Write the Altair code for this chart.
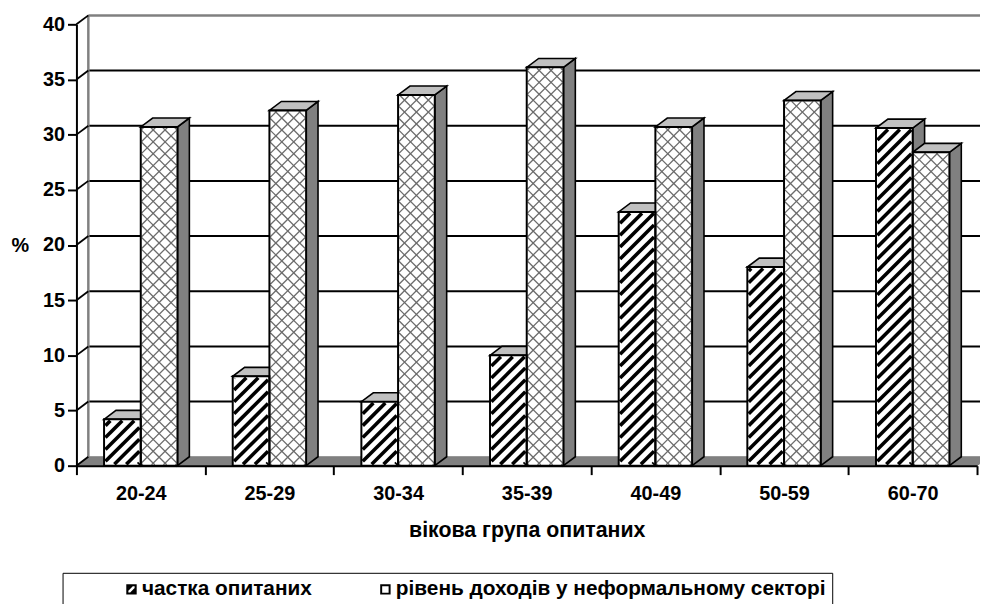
import json
import altair as alt
import pandas as pd

# ---------------- data ----------------
categories = ["20-24", "25-29", "30-34", "35-39", "40-49", "50-59", "60-70"]
share_respondents = [4.2, 8.1, 5.8, 10.0, 23.0, 18.0, 30.6]
informal_income = [30.7, 32.2, 33.6, 36.1, 30.7, 33.1, 28.4]
series_names = ["частка опитаних", "рівень доходів у неформальному секторі"]
y_tick_values = [0, 5, 10, 15, 20, 25, 30, 35, 40]
x_title = "вікова група опитаних"
y_title = "%"

# ---------------- geometry / style ----------------
FONT = "Liberation Sans"
N = len(categories)
Y_MAX = y_tick_values[-1]
PLOT_W = 908
PLOT_H = 445
SX = PLOT_W / N          # px per x unit
SY = PLOT_H / Y_MAX      # px per y unit
BAR_PX = 37
DEPTH_PX_X = 12
DEPTH_PX_Y = 9
BW = BAR_PX / SX
DXU = DEPTH_PX_X / SX
DYU = DEPTH_PX_Y / SY

rows = []
for i, cat in enumerate(categories):
    for s, vals in enumerate([share_respondents, informal_income]):
        rows.append({"cat": cat, "idx": i, "s": s, "series": series_names[s],
                     "value": vals[i], "bid": i * 2 + s})
bars = pd.DataFrame(rows)

xs = alt.Scale(domain=[0, N], nice=False, zero=False)
ys = alt.Scale(domain=[0, Y_MAX], nice=False, zero=False)

base = alt.Chart(bars).transform_calculate(
    xl=f"datum.idx + 0.5 - {BW} + datum.s * {BW}",
    xr=f"datum.idx + 0.5 + datum.s * {BW}",
    zero="0",
)

# ---------- floor ----------
floor_df = pd.DataFrame({
    "fx": [0, DXU, N, N + DXU],
    "fy": [0, 0, 0, DYU],
    "fy2": [0, DYU, DYU, DYU],
})
floor = alt.Chart(floor_df).mark_area(fill="#808080", stroke="#808080", strokeWidth=1).encode(
    x=alt.X("fx:Q", scale=xs, axis=None),
    y=alt.Y("fy:Q", scale=ys, axis=None, stack=False),
    y2="fy2:Q",
)

# ---------- back wall ----------
grid_df = pd.DataFrame({"g": y_tick_values})
wall_grid = alt.Chart(grid_df).transform_filter(
    f"datum.g > 0 && datum.g < {Y_MAX}"
).transform_calculate(
    gx0=f"{DXU}", gx1=f"{N + DXU}", gy=f"datum.g + {DYU}"
).mark_rule(color="black", strokeWidth=2).encode(
    x=alt.X("gx0:Q", scale=xs, axis=None), x2="gx1:Q",
    y=alt.Y("gy:Q", scale=ys, axis=None),
)
wall_top = alt.Chart(grid_df).transform_filter(
    f"datum.g == {Y_MAX}"
).transform_calculate(
    gx0=f"{DXU}", gx1=f"{N + DXU}", gy=f"datum.g + {DYU}", gyb=f"{DYU}"
)
wall_top_line = wall_top.mark_rule(color="#808080", strokeWidth=2.5).encode(
    x=alt.X("gx0:Q", scale=xs, axis=None), x2="gx1:Q",
    y=alt.Y("gy:Q", scale=ys, axis=None),
)
wall_left_line = wall_top.mark_rule(color="#808080", strokeWidth=2.5).encode(
    x=alt.X("gx0:Q", scale=xs, axis=None),
    y=alt.Y("gyb:Q", scale=ys, axis=None), y2="gy:Q",
)
connectors = alt.Chart(grid_df).transform_calculate(
    cx0="0", cx1=f"{DXU}", cy1=f"datum.g + {DYU}"
).mark_rule(color="black", strokeWidth=1.8).encode(
    x=alt.X("cx0:Q", scale=xs, axis=None), x2="cx1:Q",
    y=alt.Y("g:Q", scale=ys, axis=None), y2="cy1:Q",
)

# ---------- 3D faces ----------
side = base.transform_calculate(ts="sequence(0, 2)").transform_flatten(
    ["ts"], as_=["t"]
).transform_calculate(
    sx=f"datum.xr + datum.t * {DXU}",
    sy0=f"datum.t * {DYU}",
    sy1=f"datum.value + datum.t * {DYU}",
).mark_area(fill="#808080", stroke="black", strokeWidth=1.6, strokeJoin="miter").encode(
    x=alt.X("sx:Q", scale=xs, axis=None),
    y=alt.Y("sy0:Q", scale=ys, axis=None, stack=False),
    y2="sy1:Q",
    detail="bid:N",
)

top = base.transform_calculate(ts="sequence(0, 4)").transform_flatten(
    ["ts"], as_=["t"]
).transform_calculate(
    tx=f"datum.xl + (datum.t == 1 ? {DXU} : datum.t == 2 ? {BW} : datum.t == 3 ? {BW + DXU} : 0)",
    ty0=f"datum.value + (datum.t == 3 ? {DYU} : 0)",
    ty1=f"datum.value + (datum.t == 0 ? 0 : {DYU})",
).mark_area(fill="#c0c0c0", stroke="black", strokeWidth=1.6, strokeJoin="miter").encode(
    x=alt.X("tx:Q", scale=xs, axis=None),
    y=alt.Y("ty0:Q", scale=ys, axis=None, stack=False),
    y2="ty1:Q",
    detail="bid:N",
)

# ---------- axes ----------
y_axis = alt.Axis(
    values=y_tick_values, grid=False, tickSize=9, tickWidth=2, tickColor="black",
    domain=True, domainColor="black", domainWidth=2, labels=True, labelFont=FONT,
    labelFontSize=20, labelFontWeight="bold", labelColor="black", labelPadding=3,
    zindex=2, orient="left",
    title=y_title, titleAngle=0, titleX=-57, titleY=223, titleAlign="center",
    titleBaseline="middle", titleFont=FONT, titleFontSize=20, titleFontWeight="bold",
    titleColor="black",
)
x_tick_axis = alt.Axis(
    values=list(range(N + 1)), labels=False, grid=False, tickSize=9, tickWidth=2,
    tickColor="black", domainColor="black", domainWidth=2, zindex=2, title=None,
    orient="bottom",
)
label_expr = json.dumps(categories) + "[floor(datum.value)]"
x_label_axis = alt.Axis(
    values=[i + 0.5 for i in range(N)], labelExpr=label_expr, ticks=False, domain=False,
    grid=False, labelFont=FONT, labelFontSize=20, labelFontWeight="bold",
    labelColor="black", labelPadding=18, labelFlush=False, labelOverlap=False,
    orient="bottom", zindex=2,
    title=x_title, titleFont=FONT, titleFontSize=21.5, titleFontWeight="bold",
    titleColor="black", titleY=65, titleBaseline="middle",
)

# invisible layers carrying the axes
y_axis_layer = alt.Chart(pd.DataFrame({"g": y_tick_values})).mark_tick(opacity=0).encode(
    y=alt.Y("g:Q", scale=ys, axis=y_axis),
)
x_tick_layer = base.mark_tick(opacity=0).encode(
    x=alt.X("xl:Q", scale=xs, axis=x_tick_axis),
)
x_label_layer = base.mark_tick(opacity=0).encode(
    x=alt.X("xr:Q", scale=xs, axis=x_label_axis),
)

# ---------- front faces ----------
front_fill = base.mark_rect(fill="white").encode(
    x=alt.X("xl:Q", scale=xs, axis=None), x2="xr:Q",
    y=alt.Y("value:Q", scale=ys, axis=None), y2="zero:Q",
)
front_outline = base.mark_rect(fillOpacity=0, stroke="black", strokeWidth=2).encode(
    x=alt.X("xl:Q", scale=xs, axis=None), x2="xr:Q",
    y=alt.Y("value:Q", scale=ys, axis=None), y2="zero:Q",
)


def hatch(series_index, direction, period, color, width, inset, phase):
    ch = base.transform_filter(f"datum.s == {series_index}").transform_calculate(
        h=f"datum.value * {SY}",
    ).transform_calculate(
        ks=f"sequence(0, ceil(({BAR_PX} + datum.h) / {period}) + 2)"
    ).transform_flatten(["ks"], as_=["k"])
    if direction == "/":
        ch = ch.transform_calculate(c=f"datum.k * {period} - {BAR_PX} + {phase}").transform_calculate(
            u0=f"max({inset}, {inset} - datum.c)",
            u1=f"min({BAR_PX - inset}, datum.h - {inset} - datum.c)",
        ).transform_calculate(
            hy0=f"(datum.u0 + datum.c) / {SY}",
            hy1=f"(datum.u1 + datum.c) / {SY}",
        )
    else:
        ch = ch.transform_calculate(c=f"datum.k * {period} + {phase}").transform_calculate(
            u0=f"max({inset}, datum.c - datum.h + {inset})",
            u1=f"min({BAR_PX - inset}, datum.c - {inset})",
        ).transform_calculate(
            hy0=f"(datum.c - datum.u0) / {SY}",
            hy1=f"(datum.c - datum.u1) / {SY}",
        )
    ch = ch.transform_filter("datum.u1 > datum.u0").transform_calculate(
        hx0=f"datum.xl + datum.u0 / {SX}",
        hx1=f"datum.xl + datum.u1 / {SX}",
    )
    return ch.mark_rule(color=color, strokeWidth=width).encode(
        x=alt.X("hx0:Q", scale=xs, axis=None), x2="hx1:Q",
        y=alt.Y("hy0:Q", scale=ys, axis=None), y2="hy1:Q",
    )


hatch_share = hatch(0, "/", 12, "black", 3.6, 1.4, 4)
hatch_income_a = hatch(1, "/", 12, "#6b6b6b", 1.3, 0.9, 3)
hatch_income_b = hatch(1, "\\", 12, "#6b6b6b", 1.3, 0.9, 3)

# ---------- legend ----------
PATH_SHARE = ("M-1,-1H1V1H-1Z M-0.6,-0.6V0.6H0.6V-0.6Z "
              "M-0.6,-0.6L0.25,-0.6L-0.6,0.25Z M0.6,0.6L-0.25,0.6L0.6,-0.25Z")
PATH_INCOME = "M-1,-1H1V1H-1Z M-0.62,-0.62V0.62H0.62V-0.62Z"

legend_layer = alt.Chart(bars).mark_point(filled=True, color="black", opacity=0).encode(
    x=alt.X("idx:Q", scale=xs, axis=None),
    y=alt.Y("value:Q", scale=ys, axis=None),
    shape=alt.Shape(
        "series:N",
        scale=alt.Scale(domain=series_names, range=[PATH_SHARE, PATH_INCOME]),
        legend=alt.Legend(
            title=None, orient="none", legendX=-14, legendY=553, direction="horizontal",
            columns=2, strokeColor="black", padding=6, symbolSize=110,
            symbolFillColor="black", symbolStrokeWidth=0, symbolOpacity=1,
            symbolOffset=53, labelOffset=0, columnPadding=10,
            labelFont=FONT, labelFontSize=21, labelFontWeight="bold",
            labelColor="black", labelLimit=1000,
        ),
    ),
)

chart = alt.layer(
    floor, wall_grid, wall_top_line, wall_left_line, connectors,
    side, top, front_fill, hatch_share, hatch_income_a, hatch_income_b,
    front_outline, legend_layer, y_axis_layer, x_tick_layer, x_label_layer,
).resolve_axis(x="independent", y="independent").properties(
    width=PLOT_W, height=PLOT_H,
    autosize=alt.AutoSizeParams(type="none"),
    padding={"left": 69, "top": 14, "right": 3, "bottom": 137},
    background="white",
).configure_view(strokeWidth=0)

chart.save("out.html", embed_options={"renderer": "svg", "actions": False})
